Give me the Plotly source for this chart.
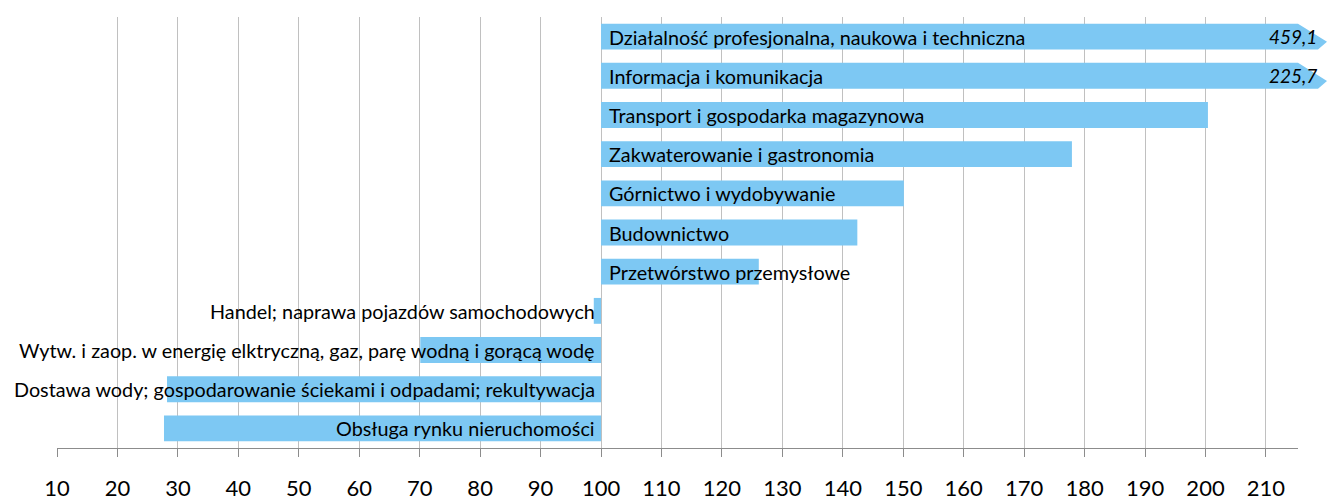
import plotly.graph_objects as go

categories = [
    "Działalność profesjonalna, naukowa i techniczna",
    "Informacja i komunikacja",
    "Transport i gospodarka magazynowa",
    "Zakwaterowanie i gastronomia",
    "Górnictwo i wydobywanie",
    "Budownictwo",
    "Przetwórstwo przemysłowe",
    "Handel; naprawa pojazdów samochodowych",
    "Wytw. i zaop. w energię elktryczną, gaz, parę wodną i gorącą wodę",
    "Dostawa wody; gospodarowanie ściekami i odpadami; rekultywacja",
    "Obsługa rynku nieruchomości",
]
values = [459.1, 225.7, 200.4, 177.9, 150.1, 142.4, 126.1, 98.8, 70.1, 28.2, 27.7]
value_labels = ["459,1", "225,7"] + [""] * 9
tick_vals = list(range(10, 220, 10))
tick_text = [str(v) for v in tick_vals]

BASE = 100
X_MIN, X_MAX = 10, 215.3
W, H = 1327, 500
ML, MR, MT, MB = 57, 29, 17, 52
BAR_COLOR = "#7DC8F3"
FONT = "Lato"
LABEL_SIZE = 19.8

fig = go.Figure()
fig.add_trace(go.Bar(
    y=categories,
    x=[v - BASE for v in values],
    base=BASE,
    orientation="h",
    marker=dict(color=BAR_COLOR, line=dict(width=0)),
    hoverinfo="skip",
))

n = len(categories)
plot_w = W - ML - MR
bargap = 0.34
annotations = []
shapes = []
for i, (c, v, vl) in enumerate(zip(categories, values, value_labels)):
    if v >= BASE:
        annotations.append(dict(x=BASE, y=c, xref="x", yref="y", text=c, showarrow=False,
                                xanchor="left", xshift=6,
                                font=dict(family=FONT, size=LABEL_SIZE, color="black")))
    else:
        annotations.append(dict(x=BASE, y=c, xref="x", yref="y", text=c, showarrow=False,
                                xanchor="right", xshift=-4,
                                font=dict(family=FONT, size=LABEL_SIZE, color="black")))
    if v > X_MAX:
        annotations.append(dict(x=1, y=c, xref="paper", yref="y", text="<i>" + vl + "</i>",
                                showarrow=False, xanchor="right", xshift=21,
                                font=dict(family=FONT, size=19, color="black")))
        # arrow tip for bar clipped at the axis end
        center = 1 - (i + 0.5) / n
        half = (1 - bargap) / 2 / n
        top, bot = center + half, center - half
        tip = 29 / plot_w
        tip2 = 20 / plot_w
        path = (f"M 1 {top} L {1 + tip} {top - 0.7 * (top - bot)} "
                f"L {1 + tip2} {bot} L 1 {bot} Z")
        shapes.append(dict(type="path", xref="paper", yref="paper", path=path,
                           fillcolor=BAR_COLOR, line=dict(width=0), layer="above"))

fig.update_layout(
    width=W, height=H,
    margin=dict(l=ML, r=MR, t=MT, b=MB, autoexpand=False),
    paper_bgcolor="white", plot_bgcolor="white",
    showlegend=False,
    bargap=bargap,
    annotations=annotations,
    shapes=shapes,
    xaxis=dict(
        range=[X_MIN, X_MAX],
        tickvals=tick_vals, ticktext=tick_text,
        showgrid=True, gridcolor="#C0C0C0", gridwidth=1,
        showline=True, linecolor="#8C8C8C", linewidth=1,
        ticks="outside", ticklen=8, tickcolor="#8C8C8C",
        ticklabelstandoff=13,
        tickfont=dict(family=FONT, size=22, color="black"),
        zeroline=False, automargin=False,
    ),
    yaxis=dict(
        categoryorder="array", categoryarray=categories,
        autorange="reversed",
        showticklabels=False, showgrid=False, showline=False, ticks="",
        zeroline=False, automargin=False,
    ),
)

fig.write_html("out.html",
               config={"displayModeBar": False},
               post_script="document.body.style.margin='0';document.body.style.overflow='hidden';")
